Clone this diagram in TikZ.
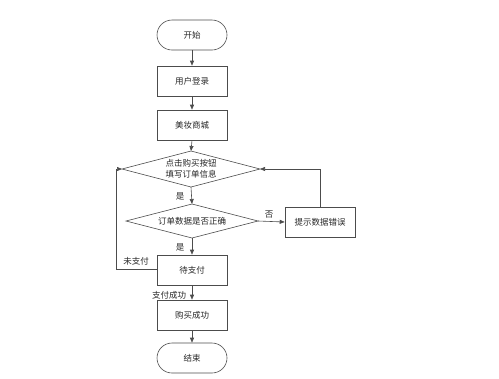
\documentclass[tikz,border=0pt]{standalone}
\usepackage{fontspec}
\newfontfamily\cjk{Noto Sans CJK SC}
\usetikzlibrary{shapes.geometric,arrows.meta}
\begin{document}
\begin{tikzpicture}[x=1bp,y=-1bp,
  every node/.style={font=\cjk\fontsize{8.5bp}{11bp}\selectfont, text=black!85},
  proc/.style={draw=black!70, line width=0.6bp, minimum width=70bp, minimum height=30bp, inner sep=0pt},
  term/.style={draw=black!70, line width=0.6bp, rounded corners=15bp, minimum width=70bp, minimum height=30bp, inner sep=0pt},
  shapeline/.style={draw=black!70, line width=0.6bp},
  conn/.style={draw=black!70, line width=0.6bp, -{Triangle[length=5bp,width=4bp]}},
  lbl/.style={font=\cjk\fontsize{8.5bp}{11bp}\selectfont, inner sep=1bp}
]
\useasboundingbox (0,0) rectangle (499,378);
\node[term] (start) at (192,35) {开始};
\node[proc] (login) at (192,81) {用户登录};
\node[proc] (mall) at (192,125) {美妆商城};
\path[shapeline] (122,169) coordinate (d1l) -- (191,151) coordinate (d1t) -- (260,169) coordinate (d1r) -- (191,187) coordinate (d1b) -- cycle;
\node[align=center] (d1) at (191,169) {点击购买按钮\\填写订单信息};
\path[shapeline] (126,221) coordinate (d2l) -- (192,204) coordinate (d2t) -- (258,221) coordinate (d2r) -- (192,238) coordinate (d2b) -- cycle;
\node (d2) at (192,221) {订单数据是否正确};
\node[proc] (err) at (320,222) {提示数据错误};
\node[proc] (wait) at (192,270) {待支付};
\node[proc] (ok) at (192,315) {购买成功};
\node[term] (end) at (192,358) {结束};
\coordinate (loopc) at (116,269);
\draw[conn] (start) -- (login);
\draw[conn] (login) -- (mall);
\draw[conn] (mall.south) -- (d1t);
\draw[conn] (d1b) -- (d2t);
\draw[conn] (d2r) -- (err.west);
\draw[conn] (err.north) |- (d1r);
\draw[conn] (d2b) -- (wait.north);
\draw[conn] (wait.west |- loopc) -- (loopc) |- (d1l);
\draw[conn] (wait) -- (ok);
\draw[conn] (ok) -- (end);
\node[lbl] (y1) at (180,196) {是};
\node[lbl] (n1) at (269,215) {否};
\node[lbl] (y2) at (180,247) {是};
\node[lbl] (np) at (136,261) {未支付};
\node[lbl] (pay) at (169,295) {支付成功};
\end{tikzpicture}
\end{document}
